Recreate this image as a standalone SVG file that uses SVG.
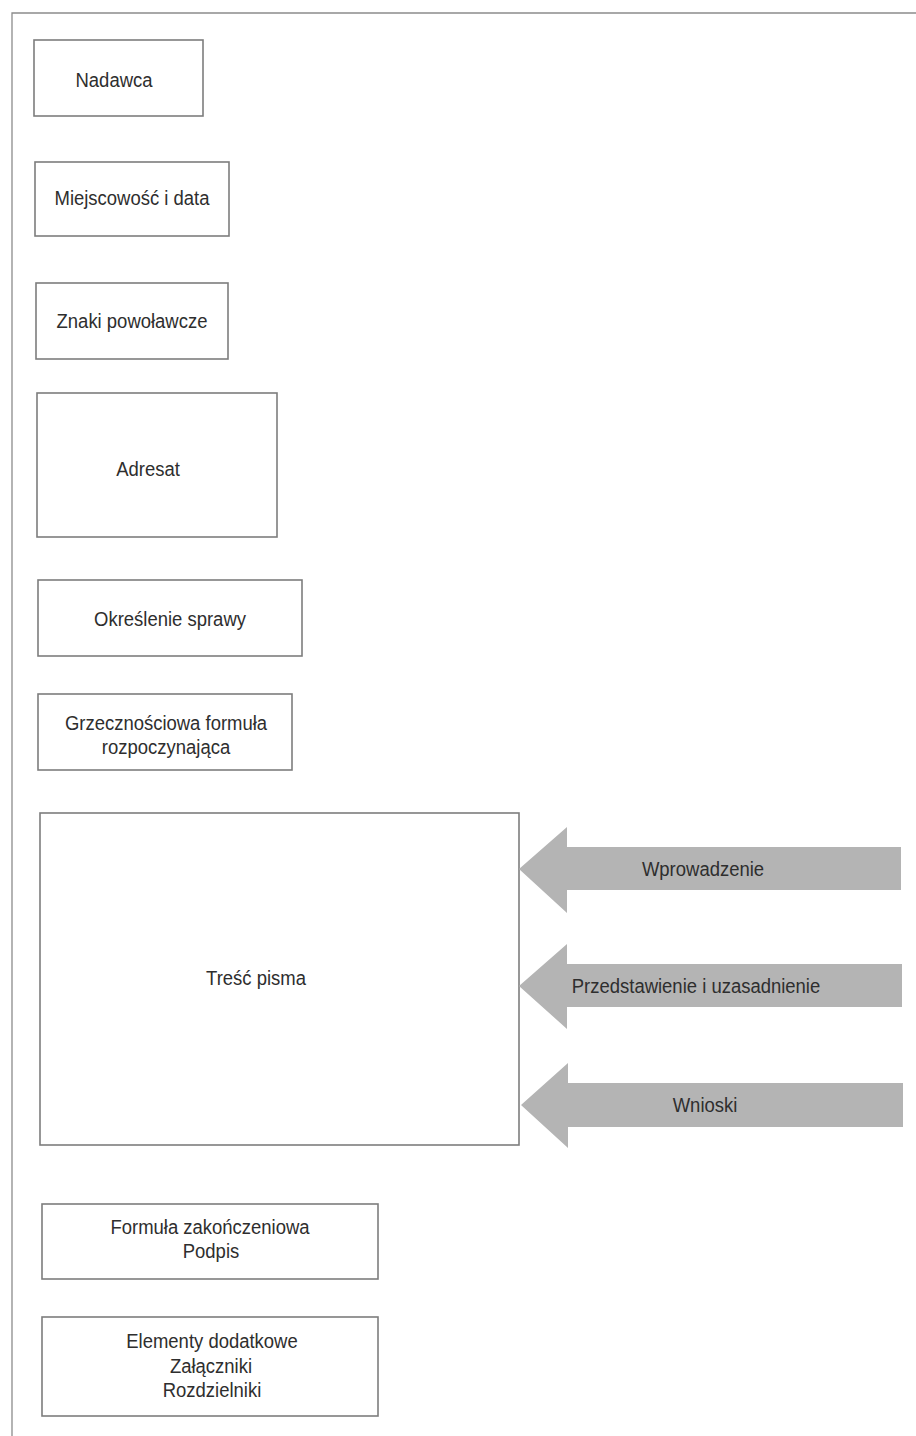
<svg xmlns="http://www.w3.org/2000/svg" width="916" height="1436" viewBox="0 0 916 1436">
<style>
.box{fill:#ffffff;stroke:#7d7d7d;stroke-width:1.6}
.t{font-family:"Liberation Sans",Arial,sans-serif;font-size:21px;fill:#2e2e2e;text-anchor:middle}
.arrow{fill:#b4b4b4}
.frame{fill:none;stroke:#8c8c8c;stroke-width:1.3}
</style>
<rect x="0" y="0" width="916" height="1436" fill="#ffffff"/>
<path class="frame" d="M12 1436 L12 13 L916 13"/>

<g id="nadawca"><rect class="box" x="34" y="40" width="169" height="76"/><text class="t" transform="translate(114 87) scale(0.88 1)">Nadawca</text></g>
<g id="miejscowosc"><rect class="box" x="35" y="162" width="194" height="74"/><text class="t" transform="translate(132 205) scale(0.88 1)">Miejscowość i data</text></g>
<g id="znaki"><rect class="box" x="36" y="283" width="192" height="76"/><text class="t" transform="translate(132 328) scale(0.88 1)">Znaki powoławcze</text></g>
<g id="adresat"><rect class="box" x="37" y="393" width="240" height="144"/><text class="t" transform="translate(148 476) scale(0.88 1)">Adresat</text></g>
<g id="okreslenie"><rect class="box" x="38" y="580" width="264" height="76"/><text class="t" transform="translate(170 626) scale(0.88 1)">Określenie sprawy</text></g>
<g id="grzecznosciowa"><rect class="box" x="38" y="694" width="254" height="76"/><text class="t" transform="translate(166 730) scale(0.88 1)">Grzecznościowa formuła</text><text class="t" transform="translate(166 754) scale(0.88 1)">rozpoczynająca</text></g>
<g id="tresc"><rect class="box" x="40" y="813" width="479" height="332"/><text class="t" transform="translate(256 985) scale(0.88 1)">Treść pisma</text></g>
<g id="formula"><rect class="box" x="42" y="1204" width="336" height="75"/><text class="t" transform="translate(210 1234) scale(0.88 1)">Formuła zakończeniowa</text><text class="t" transform="translate(211 1258) scale(0.88 1)">Podpis</text></g>
<g id="elementy"><rect class="box" x="42" y="1317" width="336" height="99"/><text class="t" transform="translate(212 1348) scale(0.88 1)">Elementy dodatkowe</text><text class="t" transform="translate(211 1373) scale(0.88 1)">Załączniki</text><text class="t" transform="translate(212 1397) scale(0.88 1)">Rozdzielniki</text></g>

<g id="connectors">
<g id="arrow-wprowadzenie"><polygon class="arrow" points="519,869 567,827 567,847 901,847 901,890 567,890 567,913"/><text class="t" transform="translate(703 876) scale(0.88 1)">Wprowadzenie</text></g>
<g id="arrow-przedstawienie"><polygon class="arrow" points="519,986 567,944 567,964 902,964 902,1007 567,1007 567,1029"/><text class="t" transform="translate(696 993) scale(0.88 1)">Przedstawienie i uzasadnienie</text></g>
<g id="arrow-wnioski"><polygon class="arrow" points="521,1105 568,1063 568,1083 903,1083 903,1127 568,1127 568,1148"/><text class="t" transform="translate(705 1112) scale(0.88 1)">Wnioski</text></g>
</g>
</svg>
